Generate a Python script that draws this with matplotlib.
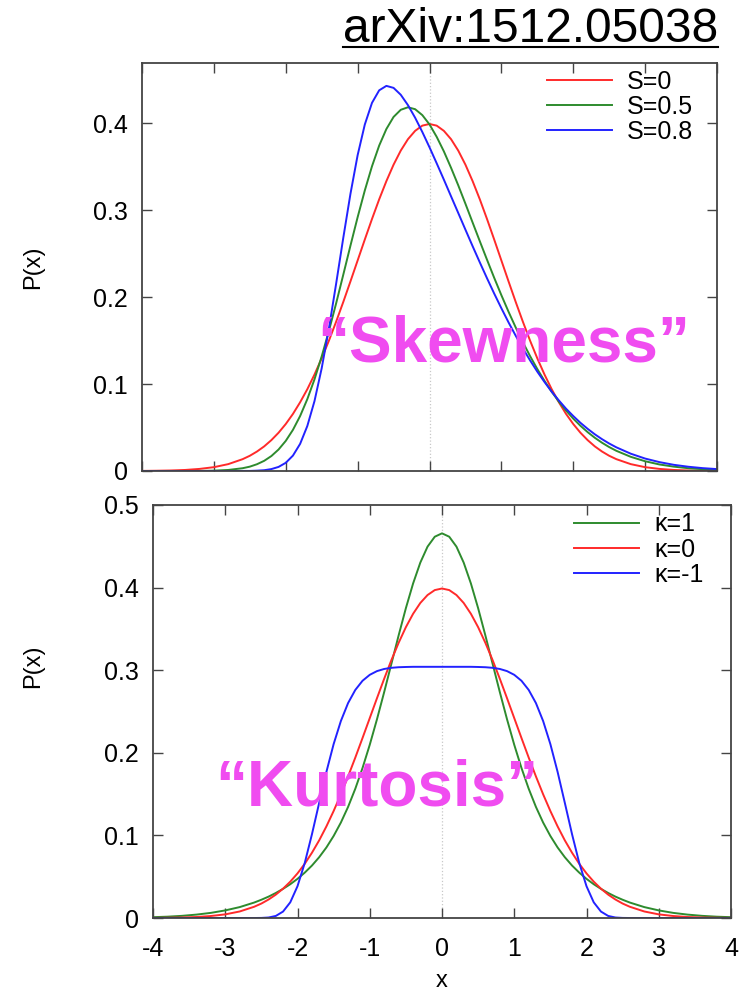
import matplotlib
matplotlib.use("Agg")
import matplotlib.pyplot as plt
from matplotlib.lines import Line2D

plt.rcParams['font.family'] = ['Liberation Sans', 'DejaVu Sans']

# x grid: coarse in the tails, finer in the middle; mirrored about zero
x_half = [-4.0, -3.8, -3.6, -3.4, -3.2, -3.0, -2.8, -2.6,
          -2.5, -2.4, -2.3, -2.2, -2.1, -2.0, -1.9, -1.8, -1.7, -1.6, -1.5, -1.4,
          -1.3, -1.2, -1.1, -1.0, -0.9, -0.8, -0.7, -0.6, -0.5, -0.4, -0.3, -0.2,
          -0.1, 0.0]
x = x_half + [-v for v in x_half[-2::-1]]

# symmetric curves: values from x=-4 up to x=0, mirrored below
s0_half = [0.0001, 0.0003, 0.0006, 0.0012, 0.0024, 0.0044, 0.0079, 0.0136,
           0.0175, 0.0224, 0.0283, 0.0355, 0.0440, 0.0540, 0.0656, 0.0790, 0.0940, 0.1109,
           0.1295, 0.1497, 0.1714, 0.1942, 0.2179, 0.2420, 0.2661, 0.2897, 0.3123, 0.3332,
           0.3521, 0.3683, 0.3814, 0.3910, 0.3970, 0.3989]
k1_half = [0.0010, 0.0016, 0.0026, 0.0041, 0.0062, 0.0092, 0.0132, 0.0187,
           0.0221, 0.0259, 0.0303, 0.0353, 0.0409, 0.0474, 0.0549, 0.0635, 0.0736, 0.0854,
           0.0993, 0.1155, 0.1345, 0.1565, 0.1816, 0.2097, 0.2406, 0.2736, 0.3079, 0.3422,
           0.3751, 0.4050, 0.4303, 0.4496, 0.4616, 0.4657]
km1_half = [0.0, 0.0, 0.0, 0.0, 0.0, 0.0, 0.0, 0.0,
            0.0001, 0.0006, 0.0025, 0.0078, 0.0190, 0.0385, 0.0665, 0.1014, 0.1394, 0.1769,
            0.2105, 0.2384, 0.2602, 0.2761, 0.2872, 0.2944, 0.2989, 0.3015, 0.3029, 0.3036,
            0.3039, 0.3041, 0.3041, 0.3041, 0.3041, 0.3041]

p_s0 = s0_half + s0_half[-2::-1]
p_k0 = p_s0
p_k1 = k1_half + k1_half[-2::-1]
p_km1 = km1_half + km1_half[-2::-1]

# skewed curves, full range
p_s05 = [0.0, 0.0, 0.0, 0.0, 0.0001, 0.0004, 0.0012, 0.0032,
         0.0050, 0.0078, 0.0117, 0.0172, 0.0247, 0.0346, 0.0473, 0.0632, 0.0826, 0.1054,
         0.1317, 0.1609, 0.1924, 0.2255, 0.2590, 0.2917, 0.3225, 0.3503, 0.3741, 0.3931,
         0.4070, 0.4152, 0.4181, 0.4159, 0.4091, 0.3984,
         0.3841, 0.3674, 0.3485, 0.3284, 0.3072, 0.2856, 0.2641, 0.2429, 0.2221, 0.2021,
         0.1830, 0.1649, 0.1479, 0.1320, 0.1172, 0.1036, 0.0911, 0.0797, 0.0695, 0.0602,
         0.0520, 0.0447, 0.0382, 0.0325, 0.0275,
         0.0232, 0.0163, 0.0112, 0.0075, 0.0050, 0.0032, 0.0021, 0.0013]
p_s08 = [0.0, 0.0, 0.0, 0.0, 0.0, 0.0, 0.0, 0.0001,
         0.0001, 0.0004, 0.0009, 0.0022, 0.0047, 0.0094, 0.0177, 0.0312, 0.0517, 0.0804,
         0.1181, 0.1636, 0.2148, 0.2678, 0.3185, 0.3630, 0.3983, 0.4232, 0.4376, 0.4427,
         0.4404, 0.4325, 0.4206, 0.4061, 0.3897, 0.3721,
         0.3537, 0.3349, 0.3157, 0.2966, 0.2774, 0.2584, 0.2398, 0.2216, 0.2040, 0.1871,
         0.1708, 0.1554, 0.1408, 0.1271, 0.1142, 0.1023, 0.0912, 0.0811, 0.0716, 0.0632,
         0.0554, 0.0485, 0.0422, 0.0366, 0.0316,
         0.0272, 0.0199, 0.0143, 0.0102, 0.0071, 0.0049, 0.0033, 0.0022]

xticks = [-4, -3, -2, -1, 0, 1, 2, 3, 4]
xticklabels = ['-4', '-3', '-2', '-1', '0', '1', '2', '3', '4']
yticks_top = [0, 0.1, 0.2, 0.3, 0.4]
yticklabels_top = ['0', '0.1', '0.2', '0.3', '0.4']
yticks_bot = [0, 0.1, 0.2, 0.3, 0.4, 0.5]
yticklabels_bot = ['0', '0.1', '0.2', '0.3', '0.4', '0.5']

RED = '#ff2a2a'
GREEN = '#2e8b2e'
BLUE = '#2222ff'
MAGENTA = '#f04cf0'

fig = plt.figure(figsize=(7.53, 9.9), dpi=100)
W, H = 753, 990
ax1 = fig.add_axes([142 / W, (H - 471) / H, 575 / W, 408 / H])
ax2 = fig.add_axes([153 / W, (H - 918) / H, 578 / W, 413 / H])


def style(ax):
    ax.set_xlim(-4, 4)
    ax.set_xticks(xticks)
    for sp in ax.spines.values():
        sp.set_color('#444444')
        sp.set_linewidth(1.3)
    ax.tick_params(direction='in', top=True, right=True, length=7, width=1,
                   color='#444444', labelsize=18, pad=10)
    ax.axvline(0, color='#c8c8c8', ls=':', lw=0.9, zorder=0)


leg_kw = dict(loc='upper right', frameon=False, fontsize=18, handlelength=2.6,
              handletextpad=0.6, labelspacing=0.05, borderaxespad=0, borderpad=0)

style(ax1)
ax1.plot(x, p_s0, color=RED, lw=1.4, label='S=0')
ax1.plot(x, p_s05, color=GREEN, lw=1.4, label='S=0.5')
ax1.plot(x, p_s08, color=BLUE, lw=1.4, label='S=0.8')
ax1.set_ylim(0, 0.469)
ax1.set_yticks(yticks_top)
ax1.set_yticklabels(yticklabels_top)
ax1.set_xticklabels([])
ax1.set_ylabel('P(x)', fontsize=17)
ax1.yaxis.set_label_coords(-0.17, 0.5)
ax1.legend(bbox_to_anchor=(0.958, 0.984), **leg_kw)

style(ax2)
ax2.plot(x, p_k1, color=GREEN, lw=1.4, label='κ=1')
ax2.plot(x, p_k0, color=RED, lw=1.4, label='κ=0')
ax2.plot(x, p_km1, color=BLUE, lw=1.4, label='κ=-1')
ax2.set_ylim(0, 0.5)
ax2.set_yticks(yticks_bot)
ax2.set_yticklabels(yticklabels_bot)
ax2.set_xticklabels(xticklabels)
ax2.tick_params(axis='x', pad=14)
ax2.set_ylabel('P(x)', fontsize=17)
ax2.yaxis.set_label_coords(-0.188, 0.61)
ax2.set_xlabel('x', fontsize=17)
ax2.xaxis.set_label_coords(0.5, -0.125)
ax2.legend(bbox_to_anchor=(0.952, 0.982), **leg_kw)

# big magenta captions
fig.text(504 / W, 1 - 362 / H, '“Skewness”', color=MAGENTA, fontsize=46,
         fontweight='bold', ha='center', va='baseline')
fig.text(377 / W, 1 - 805 / H, '“Kurtosis”', color=MAGENTA, fontsize=46,
         fontweight='bold', ha='center', va='baseline')

# underlined reference in the corner
ref = fig.text(718 / W, 1 - 42 / H, 'arXiv:1512.05038', fontsize=34.5,
               color='black', ha='right', va='baseline')
fig.canvas.draw()
bb = ref.get_window_extent().transformed(fig.transFigure.inverted())
fig.add_artist(Line2D([bb.x0, bb.x1], [1 - 47 / H, 1 - 47 / H],
                      color='black', lw=1.5, transform=fig.transFigure))

plt.savefig('out.png', dpi=100)
